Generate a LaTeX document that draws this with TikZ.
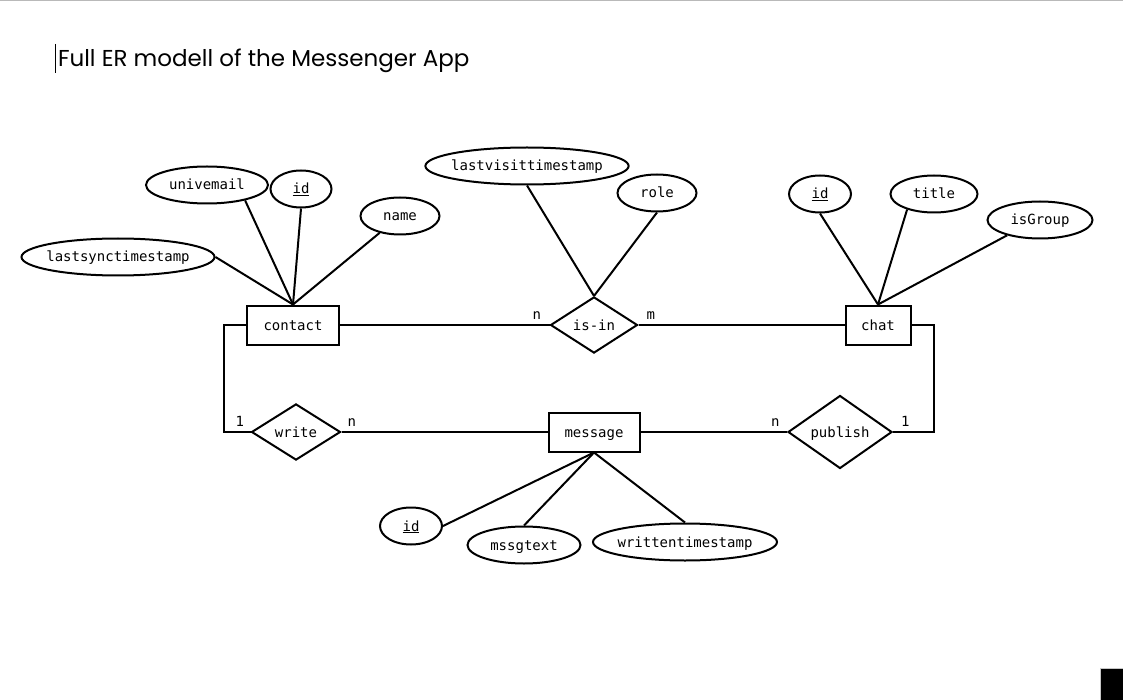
\documentclass[tikz,border=0pt]{standalone}
\usepackage{fontspec}
\setmonofont{DejaVu Sans Mono}
\newfontfamily\headfamily{Poppins}
\usetikzlibrary{shapes.geometric}
\newcommand{\key}[1]{\underline{#1}}
\newcommand{\headfont}{\headfamily\fontsize{23}{26}\selectfont}

\begin{document}
\begin{tikzpicture}[x=1pt, y=-1pt, line width=2pt,
    every node/.style={font=\ttfamily\fontsize{14}{16}\selectfont, text height=12pt, text depth=2pt},
    entity/.style={draw, rectangle, minimum height=39pt, inner sep=0pt},
    rel/.style={draw, diamond, inner sep=0pt},
    attr/.style={draw, ellipse, minimum height=37pt, inner xsep=-4pt, inner ysep=0pt},
    card/.style={inner sep=2pt, text height=10pt, text depth=3pt}]
        \useasboundingbox (0,0) rectangle (1123,700);
        %frame
        \fill[gray!55] (0,0) rectangle (1123,1.5);
        \fill[black] (1100,668) rectangle (1123,700);
        \draw[gray!45, line width=1pt] (1100,700) |- (1123,668);
        \draw[line width=0.7pt] (55,44) -- (55,73);
        \node[anchor=base west, inner sep=0pt, font=\headfont] (heading) at (57,67) {Full ER modell of the Messenger App};
        %entities and relations
        \node[entity, minimum width=92pt] (contact) at (293,325) {contact};
        \node[entity, minimum width=65pt] (chat) at (878,325) {chat};
        \node[entity, minimum width=91pt] (message) at (594,432) {message};
        \node[rel, minimum width=87pt, minimum height=53pt] (isin) at (594,325) {is-in};
        \node[rel, minimum width=89pt, minimum height=52pt] (write) at (296,432) {write};
        \node[rel, minimum width=104pt, minimum height=62pt] (publish) at (840,432) {publish};
        \coordinate (cl) at (224,325);
        \coordinate (cr) at (934,325);
        %attributes
        \node[attr, minimum width=193pt] (lastsync) at (118,257) {lastsynctimestamp};
        \node[attr, minimum width=122pt] (univemail) at (207,185) {univemail};
        \node[attr, minimum width=61pt] (contactid) at (301,189) {\key{id}};
        \node[attr, minimum width=79pt] (name) at (400,216) {name};
        \node[attr, minimum width=202pt] (lastvisit) at (527,166) {lastvisittimestamp};
        \node[attr, minimum width=79pt] (role) at (657,193) {role};
        \node[attr, minimum width=62pt] (chatid) at (820,194) {\key{id}};
        \node[attr, minimum width=87pt] (chattitle) at (934,194) {title};
        \node[attr, minimum width=105pt] (isgroup) at (1040,220) {isGroup};
        \node[attr, minimum width=62pt] (msgid) at (411,526) {\key{id}};
        \node[attr, minimum width=113pt] (msgtext) at (524,545) {mssgtext};
        \node[attr, minimum width=184pt] (written) at (685,542) {writtentimestamp};
        %attribute edges
        \path [draw] (contact.north) to (lastsync.east);
        \path [draw] (contact.north) to (univemail.-22);
        \path [draw] (contact.north) to (contactid.south);
        \path [draw] (contact.north) to (name);
        \path [draw] (isin.north) to (lastvisit.south);
        \path [draw] (isin.north) to (role.south);
        \path [draw] (chat.north) to (chatid.south);
        \path [draw] (chat.north) to (chattitle.-150);
        \path [draw] (chat.north) to (isgroup.-155);
        \path [draw] (message.south) to (msgid.east);
        \path [draw] (message.south) to (msgtext.north);
        \path [draw] (message.south) to (written.north);
        %relation edges
        \path [draw] (contact.east) to node[card, pos=0.94, above] (isinn) {n} (isin.west);
        \path [draw] (isin.east) to node[card, pos=0.06, above] (isinm) {m} (chat.west);
        \path [draw] (contact.west) -- (cl) |- node[card, pos=0.8, above] (writeone) {1} (write.west);
        \path [draw] (write.east) to node[card, pos=0.05, above] (writen) {n} (message.west);
        \path [draw] (message.east) to node[card, pos=0.92, above] (publishn) {n} (publish.west);
        \path [draw] (publish.east) -| node[card, pos=0.15, above] (publishone) {1} (cr) -- (chat.east);
      \end{tikzpicture}
\end{document}
